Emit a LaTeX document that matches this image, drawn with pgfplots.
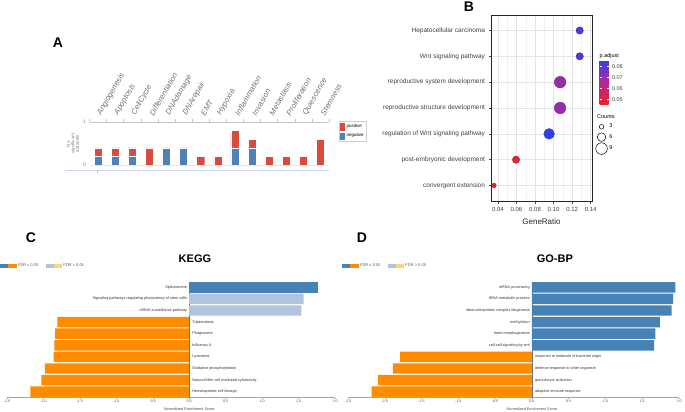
\documentclass[border=0pt]{standalone}
\usepackage{pgfplots}
\pgfplotsset{compat=1.18}
\usepackage{fontspec}
\setmainfont{Liberation Sans}
\definecolor{Ared}{RGB}{218,75,63}
\definecolor{Ablue}{RGB}{80,128,182}
\definecolor{sblue}{RGB}{70,130,180}
\definecolor{lblue}{RGB}{176,196,222}
\definecolor{dorange}{RGB}{255,140,0}
\definecolor{lorange}{RGB}{255,212,128}
\definecolor{navline}{RGB}{204,214,235}
\newcommand{\fs}[1]{\fontsize{#1bp}{#1bp}\selectfont}
\pgfplotsset{/pgf/number format/assume math mode=true,
  hbar/.style={xbar, bar width=0.9, bar shift=0, draw=none, forget plot}}
\begin{document}
\begin{tikzpicture}[x=1bp,y=1bp]
\path[use as bounding box] (0,0) rectangle (685,411);
% panel letters
\node[font=\fs{14}\bfseries] at (58,368) {A};
\node[font=\fs{14}\bfseries] at (469,404) {B};
\node[font=\fs{14}\bfseries] at (31,173) {C};
\node[font=\fs{14}\bfseries] at (362,173) {D};

% ---------------- Panel A ----------------
\begin{axis}[
  at={(89.5bp,246bp)}, anchor=south west, scale only axis,
  width=239.5bp, height=43bp,
  xmin=-0.5, xmax=13.5, ymin=0, ymax=1,
  ybar stacked, bar width=0.47,
  axis x line*=top, axis y line*=left,
  axis line style={-},
  x axis line style={draw=gray!45, line width=0.5bp},
  y axis line style={draw=none},
  xtick={0,...,13},
  xticklabels={Angiogenesis,Apoptosis,CellCycle,Differentiation,DNAdamage,DNArepair,EMT,Hypoxia,Inflammation,Invasion,Metastasis,Proliferation,Quiescence,Stemness},
  minor xtick={-0.5,0.5,...,13.5},
  major tick length=0pt, minor tick length=3bp, tick align=outside,
  minor x tick style={gray!45, line width=0.5bp},
  xticklabel style={rotate=60, anchor=south west, xshift=5.5bp, yshift=-2.7bp, font=\fs{7.8}\itshape, text=black!55, inner sep=1.5bp},
  ytick={0,1},
  yticklabel style={font=\fs{5}, text=gray},
  ymajorgrids, major grid style={gray!20, line width=0.4bp},
  ylabel={No.\\significant\\datasets},
  ylabel style={font=\fs{4.5}, text=gray, align=center, at={(axis description cs:-0.07,0.5)}, anchor=center},
  legend style={at={(1.042,1.02)}, anchor=north west, draw=gray!40, fill=white, font=\fs{4.5}, inner sep=1bp, row sep=0.5bp},
  legend cell align=left,
  reverse legend,
]
\addplot[fill=Ablue, draw=white, line width=0.4bp,
  legend image code/.code={\fill[Ablue] (0bp,-3.2bp) rectangle (4bp,3.2bp);}]
  coordinates {(0,0.2)(1,0.2)(2,0.2)(3,0)(4,0.4)(5,0.4)(6,0)(7,0)(8,0.4)(9,0.4)(10,0)(11,0)(12,0)(13,0)};
\addlegendentry{negative}
\addplot[fill=Ared, draw=white, line width=0.4bp,
  legend image code/.code={\fill[Ared] (0bp,-3.2bp) rectangle (4bp,3.2bp);}]
  coordinates {(0,0.2)(1,0.2)(2,0.2)(3,0.4)(4,0)(5,0)(6,0.2)(7,0.2)(8,0.4)(9,0.2)(10,0.2)(11,0.2)(12,0.2)(13,0.6)};
\addlegendentry{positive}
\end{axis}
\draw[navline, line width=1bp] (65,241) -- (329,241);
\draw[gray!50, line width=0.4bp] (97,241) -- (97,238);

% ---------------- Panel B ----------------
\begin{axis}[
  at={(491bp,210bp)}, anchor=south west, scale only axis,
  width=101bp, height=186bp,
  xmin=0.0325, xmax=0.1415, ymin=0.4, ymax=7.6,
  xtick={0.04,0.06,0.08,0.1,0.12,0.14},
  xticklabels={0.04,0.06,0.08,0.10,0.12,0.14},
  minor xtick={0.05,0.07,0.09,0.11,0.13},
  ytick={1,2,3,4,5,6,7},
  yticklabels={convergent extension,post-embryonic development,regulation of Wnt signaling pathway,reproductive structure development,reproductive system development,Wnt signaling pathway,Hepatocellular carcinoma},
  tick pos=left,
  xmajorgrids, ymajorgrids, xminorgrids,
  major grid style={gray!20, line width=0.45bp},
  minor grid style={gray!10, line width=0.3bp},
  tick align=outside, major tick length=2.5bp, minor tick length=0pt,
  major tick style={black!70, line width=0.45bp},
  axis line style={black!85, line width=0.6bp},
  yticklabel style={font=\fs{6.5}, text=black!75},
  xticklabel style={font=\fs{6}, text=black!75},
  xlabel={GeneRatio},
  xlabel style={font=\fs{8}, text=black!85, at={(axis description cs:0.5,0)}, anchor=north, yshift=-14bp},
  colormap={padj}{rgb255(0cm)=(235,35,35); rgb255(1cm)=(180,40,150); rgb255(2cm)=(45,65,240)},
  point meta min=0.046, point meta max=0.0855,
  colorbar,
  colorbar style={
    at={(parent axis.north east)}, anchor=north west, xshift=-1bp, yshift=-45bp,
    scale only axis, width=9bp, height=44bp,
    ytick={0.05,0.06,0.07,0.08},
    yticklabels={0.05,0.06,0.07,0.08},
    scaled y ticks=false,
    yticklabel style={font=\fs{5.5}, text=black!75},
    axis line style={draw=none},
    major tick length=2bp, tick align=inside,
    ytick style={white, line width=0.6bp},
    every axis title shift=0pt,
    title={p.adjust}, title style={font=\fs{5.5}, anchor=south west, at={(0,1)}, inner sep=1bp, xshift=-1bp},
  },
  legend style={at={(1.035,0.425)}, anchor=north west, draw=none, fill=none, font=\fs{5.5}, inner sep=0pt, row sep=1bp},
  legend cell align=left,
]
\addlegendimage{only marks, mark=o, mark size=2.3bp, black, line width=0.5bp}
\addlegendentry{3}
\addlegendimage{only marks, mark=o, mark size=4.3bp, black, line width=0.5bp}
\addlegendentry{6}
\addlegendimage{only marks, mark=o, mark size=5.8bp, black, line width=0.5bp}
\addlegendentry{9}
\addplot[scatter, only marks, mark=*, forget plot, point meta=explicit,
  visualization depends on={2.3+(sqrt(\thisrow{count})-1.732)*2.76 \as \rr},
  scatter/@pre marker code/.append style={/tikz/mark size=\rr bp}]
  table[x=ratio, y=pos, meta=padj] {
ratio pos padj count
0.0357 1 0.0465 3
0.0595 2 0.0490 5
0.0952 3 0.0850 8
0.1071 4 0.0705 9
0.1071 5 0.0700 9
0.1282 6 0.0805 5
0.1282 7 0.0805 5
};
\end{axis}
\node[anchor=west, font=\fs{5.5}, inner sep=0pt] at (597,294) {Counts};

% ---------------- Panel C ----------------
\begin{axis}[
  at={(7bp,13.5bp)}, anchor=south west, scale only axis,
  width=328bp, height=116bp,
  xmin=-2.5, xmax=2.0, ymin=0.5, ymax=10.5, y dir=reverse,
  axis x line*=bottom, axis y line=none,
  axis line style={-, gray!70, line width=0.4bp},
  xtick={-2.5,-2,-1.5,-1,-0.5,0,0.5,1,1.5,2},
  xticklabels={-2.5,-2.0,-1.5,-1.0,-0.5,0.0,0.5,1.0,1.5,2.0},
  xticklabel style={font=\fs{3.6}, text=black!70, inner sep=1bp},
  major tick length=1.5bp, tick align=outside, major tick style={gray!70, line width=0.4bp},
  ytick=\empty,
  extra x ticks={0}, extra x tick labels={},
  extra x tick style={grid=major, major grid style={black!55, line width=0.5bp}},
  xlabel={Normalized Enrichment Score},
  xlabel style={font=\fs{3.8}, text=black!70, at={(axis description cs:0.5556,0)}, anchor=north, yshift=-7bp},
  every axis title shift=0pt,
  title={KEGG}, title style={font=\fs{11}\bfseries, at={(axis description cs:0.573,1.194)}, anchor=center},
  legend style={at={(-0.0213,1.134)}, anchor=west, draw=none, fill=none, font=\fs{4}, text=black!65, legend columns=2, inner sep=0pt, /tikz/every even column/.append style={column sep=5bp}},
]
\addlegendimage{legend image code/.code={\fill[sblue] (0bp,-1.6bp) rectangle (7.5bp,1.6bp); \fill[dorange] (8bp,-1.6bp) rectangle (15.5bp,1.6bp);}}
\addlegendentry{FDR ≤ 0.05}
\addlegendimage{legend image code/.code={\fill[lblue] (0bp,-1.6bp) rectangle (7.5bp,1.6bp); \fill[lorange] (8bp,-1.6bp) rectangle (15.5bp,1.6bp);}}
\addlegendentry{FDR > 0.05}
\addplot[hbar, fill=sblue] coordinates {(1.76,1)};
\addplot[hbar, fill=lblue] coordinates {(1.57,2)(1.54,3)};
\addplot[hbar, fill=dorange] coordinates {(-1.81,4)(-1.84,5)(-1.85,6)(-1.86,7)(-1.98,8)(-2.03,9)(-2.18,10)};
\addplot[only marks, mark=none, forget plot, point meta=explicit symbolic, nodes near coords,
  nodes near coords style={anchor=east, font=\fs{3.8}, text=black!80, xshift=-2bp, inner sep=0pt}]
  coordinates {(0,1)[Spliceosome] (0,2)[Signaling pathways regulating pluripotency of stem cells] (0,3)[mRNA surveillance pathway]};
\addplot[only marks, mark=none, forget plot, point meta=explicit symbolic, nodes near coords,
  nodes near coords style={anchor=west, font=\fs{3.8}, text=black!80, xshift=3bp, inner sep=0pt}]
  coordinates {(0,4)[Tuberculosis] (0,5)[Phagosome] (0,6)[Influenza A] (0,7)[Lysosome] (0,8)[Oxidative phosphorylation] (0,9)[Natural killer cell mediated cytotoxicity] (0,10)[Hematopoietic cell lineage]};
\end{axis}

% ---------------- Panel D ----------------
\begin{axis}[
  at={(348bp,13.5bp)}, anchor=south west, scale only axis,
  width=331bp, height=116bp,
  xmin=-2.5, xmax=2.0, ymin=0.5, ymax=10.5, y dir=reverse,
  axis x line*=bottom, axis y line=none,
  axis line style={-, gray!70, line width=0.4bp},
  xtick={-2.5,-2,-1.5,-1,-0.5,0,0.5,1,1.5,2},
  xticklabels={-2.5,-2.0,-1.5,-1.0,-0.5,0.0,0.5,1.0,1.5,2.0},
  xticklabel style={font=\fs{3.6}, text=black!70, inner sep=1bp},
  major tick length=1.5bp, tick align=outside, major tick style={gray!70, line width=0.4bp},
  ytick=\empty,
  extra x ticks={0}, extra x tick labels={},
  extra x tick style={grid=major, major grid style={black!55, line width=0.5bp}},
  xlabel={Normalized Enrichment Score},
  xlabel style={font=\fs{3.8}, text=black!70, at={(axis description cs:0.5556,0)}, anchor=north, yshift=-7bp},
  every axis title shift=0pt,
  title={GO-BP}, title style={font=\fs{11}\bfseries, at={(axis description cs:0.625,1.194)}, anchor=center},
  legend style={at={(-0.018,1.134)}, anchor=west, draw=none, fill=none, font=\fs{4}, text=black!65, legend columns=2, inner sep=0pt, /tikz/every even column/.append style={column sep=5bp}},
]
\addlegendimage{legend image code/.code={\fill[sblue] (0bp,-1.6bp) rectangle (7.5bp,1.6bp); \fill[dorange] (8bp,-1.6bp) rectangle (15.5bp,1.6bp);}}
\addlegendentry{FDR ≤ 0.05}
\addlegendimage{legend image code/.code={\fill[lblue] (0bp,-1.6bp) rectangle (7.5bp,1.6bp); \fill[lorange] (8bp,-1.6bp) rectangle (15.5bp,1.6bp);}}
\addlegendentry{FDR > 0.05}
\addplot[hbar, fill=sblue] coordinates {(1.95,1)(1.92,2)(1.90,3)(1.74,4)(1.68,5)(1.66,6)};
\addplot[hbar, fill=dorange] coordinates {(-1.79,7)(-1.89,8)(-2.09,9)(-2.18,10)};
\addplot[only marks, mark=none, forget plot, point meta=explicit symbolic, nodes near coords,
  nodes near coords style={anchor=east, font=\fs{3.8}, text=black!80, xshift=-2bp, inner sep=0pt}]
  coordinates {(0,1)[mRNA processing] (0,2)[tRNA metabolic process] (0,3)[ribonucleoprotein complex biogenesis] (0,4)[methylation] (0,5)[heart morphogenesis] (0,6)[cell-cell signaling by wnt]};
\addplot[only marks, mark=none, forget plot, point meta=explicit symbolic, nodes near coords,
  nodes near coords style={anchor=west, font=\fs{3.8}, text=black!80, xshift=3bp, inner sep=0pt}]
  coordinates {(0,7)[response to molecule of bacterial origin] (0,8)[defense response to other organism] (0,9)[granulocyte activation] (0,10)[adaptive immune response]};
\end{axis}
\end{tikzpicture}
\end{document}
